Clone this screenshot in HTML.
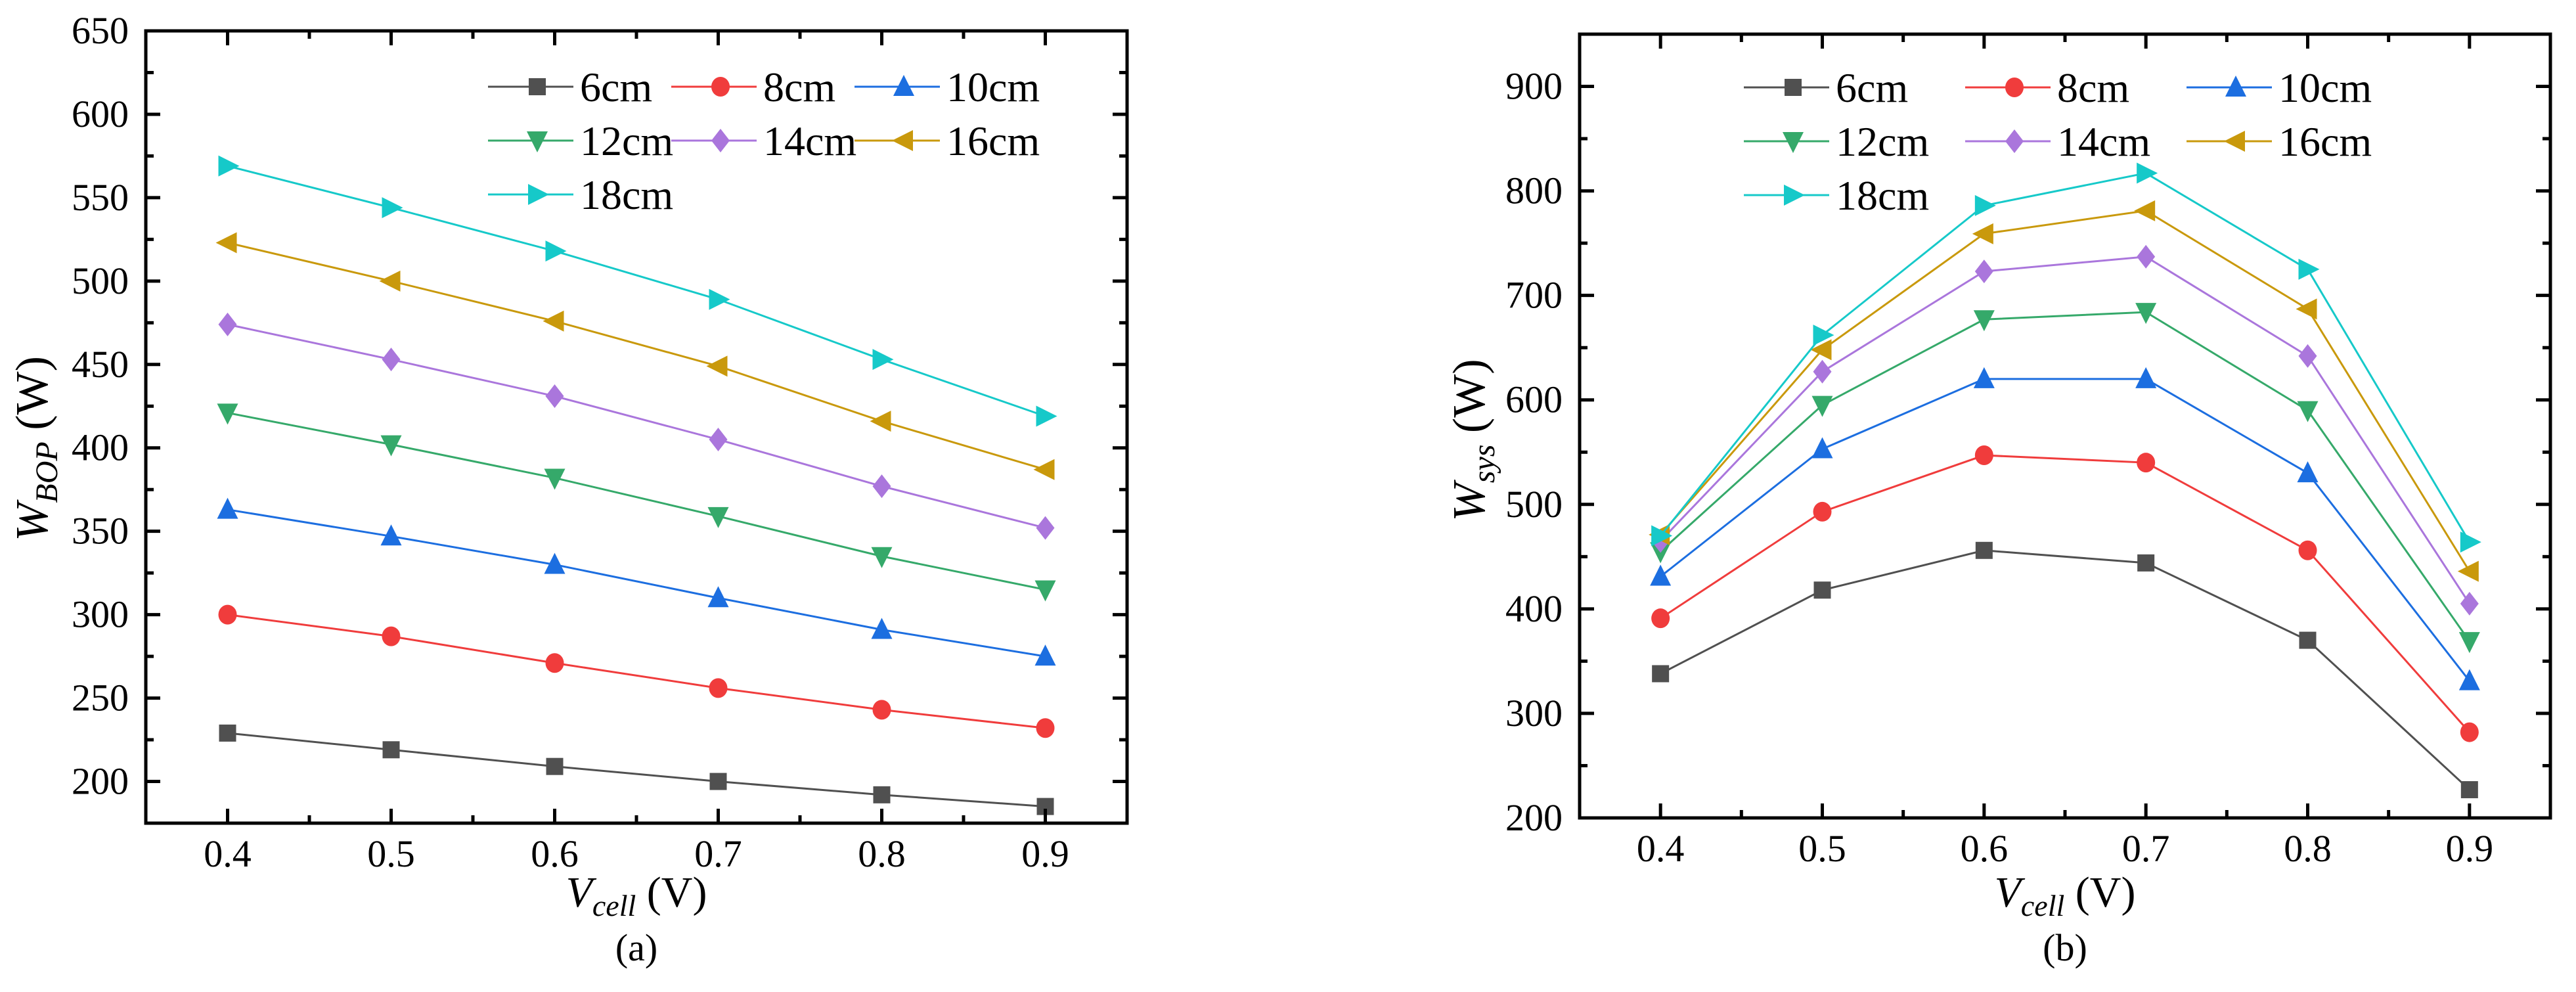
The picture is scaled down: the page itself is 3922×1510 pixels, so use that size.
<!DOCTYPE html>
<html><head><meta charset="utf-8"><style>
html,body{margin:0;padding:0;background:#fff;}
svg{display:block;}
svg text{font-family:"Liberation Serif","Times New Roman",serif;fill:#000;}
</style></head><body>
<svg id="fig" width="3922" height="1510" viewBox="0 0 3922 1510" xmlns="http://www.w3.org/2000/svg" font-family="Liberation Serif, serif"></svg>
<script>
const xValues = [0.4, 0.5, 0.6, 0.7, 0.8, 0.9];
const seriesNames = ["6cm","8cm","10cm","12cm","14cm","16cm","18cm"];
const bop6 = [229,219,209,200,192,185];
const bop8 = [300,287,271,256,243,232];
const bop10 = [363,347,330,310,291,275];
const bop12 = [421,402,382,359,335,315];
const bop14 = [474,453,431,405,377,352];
const bop16 = [523,500,476,449,416,387];
const bop18 = [569,544,518,489,453,419];
const sys6 = [338,418,456,444,370,227];
const sys8 = [391,493,547,540,456,282];
const sys10 = [431,553,620,620,530,331];
const sys12 = [455,595,677,684,590,369];
const sys14 = [465,627,723,737,642,405];
const sys16 = [471,648,759,781,687,436];
const sys18 = [470,662,786,817,725,464];
const xTickLabels = ["0.4","0.5","0.6","0.7","0.8","0.9"];
const yTicksA = [200,250,300,350,400,450,500,550,600,650];
const yTicksB = [200,300,400,500,600,700,800,900];

const colors = ["#505050","#f03c3c","#1c6ee0","#35a96a","#aa76dc","#c9990c","#16c9c9"];
const shapes = ["square","circle","up","down","diamond","left","right"];
const NS = "http://www.w3.org/2000/svg";
const FONT = '"Liberation Serif", serif';
const svg = document.getElementById('fig');
function mk(tag, attrs, parent){
  const e = document.createElementNS(NS, tag);
  for (const k in attrs) e.setAttribute(k, attrs[k]);
  if (tag === 'text') e.setAttribute('font-family', FONT);
  (parent||svg).appendChild(e);
  return e;
}
function marker(g, shape, cx, cy, color){
  let e;
  const s = 16;
  if (shape==="square") e = mk('rect',{x:cx-13,y:cy-13,width:26,height:26,fill:color},g);
  else if (shape==="circle") e = mk('ellipse',{cx:cx,cy:cy,rx:14,ry:15,fill:color},g);
  else {
    let p;
    if (shape==="up") p=[[cx,cy-s-2],[cx+s,cy+s-2],[cx-s,cy+s-2]];
    if (shape==="down") p=[[cx,cy+s+2],[cx+s,cy-s+2],[cx-s,cy-s+2]];
    if (shape==="left") p=[[cx-s-2,cy],[cx+s-2,cy-s],[cx+s-2,cy+s]];
    if (shape==="right") p=[[cx+s+2,cy],[cx-s+2,cy-s],[cx-s+2,cy+s]];
    if (shape==="diamond") p=[[cx,cy-18],[cx+14,cy],[cx,cy+18],[cx-14,cy]];
    e = mk('polygon',{points:p.map(q=>q.join(',')).join(' '),fill:color},g);
  }
  
  
}

function drawChart(cfg){
  const g = mk('g',{});
  
  
  const X = v => cfg.L + (v - 0.35) / 0.6 * (cfg.R - cfg.L);
  const Y = v => cfg.B - (v - cfg.ymin) / (cfg.ymax - cfg.ymin) * (cfg.B - cfg.T);
  cfg.series.forEach((vals, i) => {
    const sg = mk('g',{},g);
    
    
    const pl = mk('polyline',{points:vals.map((v,j)=>X(xValues[j])+','+Y(v)).join(' '),fill:'none',stroke:colors[i],'stroke-width':3},sg);
    
    
    vals.forEach((v,j)=>marker(sg, shapes[i], X(xValues[j]), Y(v), colors[i]));
  });
  const fr = mk('rect',{x:cfg.L,y:cfg.T,width:cfg.R-cfg.L,height:cfg.B-cfg.T,fill:'none',stroke:'#000','stroke-width':5},g);
  
  
  for (let v=0.35; v<=0.951; v+=0.05){
    const major = Math.abs(Math.round(v*10)-v*10) < 0.01;
    const len = major ? 22 : 12;
    const x = X(v);
    const t1 = mk('line',{x1:x,y1:cfg.B,x2:x,y2:cfg.B-len,stroke:'#000','stroke-width':5},g);
    
    
    mk('line',{x1:x,y1:cfg.T,x2:x,y2:cfg.T+len,stroke:'#000','stroke-width':5},g);
  }
  xTickLabels.forEach((lab,j)=>{
    const t = mk('text',{x:X(xValues[j]),y:cfg.B+66,'font-size':58,'text-anchor':'middle'},g);
    t.textContent = lab;
    
    
  });
  const step = cfg.yTicks[1]-cfg.yTicks[0];
  for (let v=cfg.ymin; v<=cfg.ymax+0.01; v+=step/2){
    const major = Math.abs(((v - cfg.yTicks[0]) / step) - Math.round((v - cfg.yTicks[0]) / step)) < 0.01;
    const len = major ? 22 : 12;
    const y = Y(v);
    const t1 = mk('line',{x1:cfg.L,y1:y,x2:cfg.L+len,y2:y,stroke:'#000','stroke-width':5},g);
    
    
    mk('line',{x1:cfg.R,y1:y,x2:cfg.R-len,y2:y,stroke:'#000','stroke-width':5},g);
  }
  cfg.yTicks.forEach(v=>{
    const t = mk('text',{x:cfg.L-26,y:Y(v)+19,'font-size':58,'text-anchor':'end'},g);
    t.textContent = v;
    
    
  });
  const lg = mk('g',{},g);
  
  
  seriesNames.forEach((nm,i)=>{
    const col = i%3, row = Math.floor(i/3);
    const lx = cfg.legX + col*cfg.legDx, ly = cfg.legY + row*82;
    const eg = mk('g',{},lg);
    
    
    mk('line',{x1:lx,y1:ly,x2:lx+130,y2:ly,stroke:colors[i],'stroke-width':3},eg);
    marker(eg, shapes[i], lx+75, ly, colors[i]);
    const t = mk('text',{x:lx+140,y:ly+22,'font-size':64},eg);
    t.textContent = nm;
  });
  const yt = mk('text',{x:0,y:0,'font-size':70,'text-anchor':'middle',transform:`translate(${cfg.ytX},${cfg.ytY}) rotate(-90)`},g);
  
  
  yt.innerHTML = `<tspan font-style="italic">W</tspan><tspan font-style="italic" font-size="48" dy="15">${cfg.sub}</tspan><tspan dy="-15"> (W)</tspan>`;
  const cx = (cfg.L+cfg.R)/2;
  const xt = mk('text',{x:cx,y:1380,'font-size':66,'text-anchor':'middle'},g);
  
  
  xt.innerHTML = `<tspan font-style="italic">V</tspan><tspan font-style="italic" font-size="46" dy="14">cell</tspan><tspan dy="-14"> (V)</tspan>`;
  const cap = mk('text',{x:cx,y:1462,'font-size':58,'text-anchor':'middle'},g);
  
  
  cap.textContent = cfg.caption;
}

drawChart({name:'chart-a-wbop', L:222, R:1716, T:47, B:1253, ymin:175, ymax:650, yTicks:yTicksA,
  series:[bop6,bop8,bop10,bop12,bop14,bop16,bop18], legX:743, legDx:279, legY:132,
  ytX:72, ytY:683, sub:'BOP', caption:'(a)'});
drawChart({name:'chart-b-wsys', L:2405, R:3883, T:52, B:1245, ymin:200, ymax:950, yTicks:yTicksB,
  series:[sys6,sys8,sys10,sys12,sys14,sys16,sys18], legX:2655, legDx:337, legY:133,
  ytX:2260, ytY:670, sub:'sys', caption:'(b)'});
</script>
</body></html>
